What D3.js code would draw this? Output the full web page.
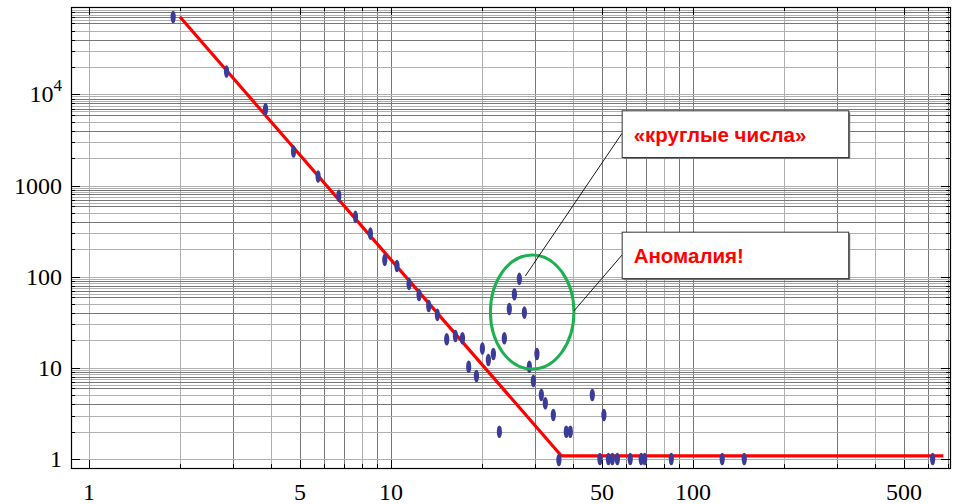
<!DOCTYPE html>
<html><head><meta charset="utf-8">
<script src="https://cdn.jsdelivr.net/npm/d3@7"></script>
<style>
html,body{margin:0;padding:0;background:#fff;}
svg{display:block;}
</style></head>
<body>
<svg id="chart" width="953" height="504"></svg>
<script>
// ---- data ----
const pointsX = [1.90,2.855,3.843,4.758,5.739,6.72,7.63,8.55,9.54,10.47,11.48,12.39,13.34,14.25,15.30,16.35,17.25,18.09,19.19,20.08,21.02,21.84,22.86,23.74,24.66,25.63,26.62,27.66,28.73,29.62,30.44,31.48,32.45,34.49,35.99,38.08,39.26,46.43,50.72,49.2,52.5,54.1,56.2,62.0,67.4,69.2,84.8,125,147.9,622];
const pointsY = [70600,17830,6900,2362,1256,771,453,297,153,131,83.4,63.1,47.8,38.1,20.6,22.4,21.1,10.3,8.15,16.3,12.2,14.2,1.99,21.1,44.3,64.3,94.6,40.4,10.3,7.18,14.2,5.04,4.09,3.04,0.975,1.99,1.99,5.04,3.04,1,1,1,1,1,1,1,1,1,1,1];
const fitX = [2.0, 36.7, 675];
const fitY = [71100, 1.08, 1.08];
const xTickLabels = [1,5,10,50,100,500];
const yTickValues = [1,10,100,1000,10000];
const yTickLabels = ["1","10","100","1000","10^4"];
const annotationTexts = ["«круглые числа»","Аномалия!"];
// ellipse bounds (data units)
const ringX = [21.35, 40.36];
const ringY = [9.72, 173.5];
// annotation boxes (data units): [x0,x1,yTop,yBottom]
const box1 = [58.3, 328, 6607, 2030];
const box2 = [58.3, 328, 308, 95.3];
const leader1 = [[27.87,102],[58.3,3760]];
const leader2 = [[40.36,42.1],[58.3,173.5]];

// ---- scales ----
const svg = d3.select("#chart");
const x = d3.scaleLog().domain([0.872, 710]).range([71, 950]);
const y = d3.scaleLog().domain([0.797, 91000]).range([468, 7]);
const [X0,X1] = x.range(); const [Y0,Y1] = y.range();
const px = v => Math.round(v)+0.5;

// ---- gridlines ----
const lightX = new Set([1,2,4,8,20,40,80,200,400]);
const vgrid = [];
for (let k=0;k<3;k++) for (let d=1; d<=9; d++){ const v=d*Math.pow(10,k); if (v<=x.domain()[1]) vgrid.push(v);}
svg.append("g").selectAll("line").data(vgrid).join("line")
  .attr("x1",d=>px(x(d))).attr("x2",d=>px(x(d))).attr("y1",Y1).attr("y2",Y0)
  .attr("stroke",d=>lightX.has(d)?"#b0b0b0":"#777777").attr("stroke-width",1);

const hMult = [1,2,3,4,5,6,6.5,7,7.5,8,8.5,9,9.5];
const lightMult = new Set([1,2,3,5,6.5,7.5,8.5,9.5]);
const hgrid = [];
for (let k=0;k<5;k++) for (const d of hMult){ const v=d*Math.pow(10,k); if (v<=y.domain()[1] && v>=y.domain()[0]) hgrid.push({v,d});}
svg.append("g").selectAll("line").data(hgrid).join("line")
  .attr("x1",X0).attr("x2",X1).attr("y1",d=>px(y(d.v))).attr("y2",d=>px(y(d.v)))
  .attr("stroke",d=>lightMult.has(d.d)?"#b0b0b0":"#777777").attr("stroke-width",1);

// ---- ticks (inward) ----
const tickG = svg.append("g").attr("stroke","#000").attr("stroke-width",1);
const xMinor = vgrid.filter(v=>!xTickLabels.includes(v));
tickG.selectAll(".xb").data(xTickLabels).join("line").attr("x1",d=>px(x(d))).attr("x2",d=>px(x(d))).attr("y1",Y0).attr("y2",Y0-8);
tickG.selectAll(".xt").data(xTickLabels).join("line").attr("x1",d=>px(x(d))).attr("x2",d=>px(x(d))).attr("y1",Y1).attr("y2",Y1+8);
tickG.selectAll(".xbm").data(xMinor).join("line").attr("x1",d=>px(x(d))).attr("x2",d=>px(x(d))).attr("y1",Y0).attr("y2",Y0-4);
tickG.selectAll(".xtm").data(xMinor).join("line").attr("x1",d=>px(x(d))).attr("x2",d=>px(x(d))).attr("y1",Y1).attr("y2",Y1+4);
const yMinor = hgrid.filter(d=>Number.isInteger(d.d) && d.d>1).map(d=>d.v);
tickG.selectAll(".yl").data(yTickValues).join("line").attr("x1",X0).attr("x2",X0+9).attr("y1",d=>px(y(d))).attr("y2",d=>px(y(d)));
tickG.selectAll(".yr").data(yTickValues).join("line").attr("x1",X1).attr("x2",X1-9).attr("y1",d=>px(y(d))).attr("y2",d=>px(y(d)));
tickG.selectAll(".ylm").data(yMinor).join("line").attr("x1",X0).attr("x2",X0+4).attr("y1",d=>px(y(d))).attr("y2",d=>px(y(d)));
tickG.selectAll(".yrm").data(yMinor).join("line").attr("x1",X1).attr("x2",X1-4).attr("y1",d=>px(y(d))).attr("y2",d=>px(y(d)));

// frame
svg.append("rect").attr("x",X0+0.5).attr("y",Y1+0.5).attr("width",X1-X0).attr("height",Y0-Y1)
  .attr("fill","none").attr("stroke","#000").attr("stroke-width",1.2);

// ---- tick labels ----
const font = "'Liberation Serif','Times New Roman',serif";
svg.append("g").selectAll("text").data(xTickLabels).join("text")
  .attr("x",d=>x(d)).attr("y",500).attr("text-anchor","middle")
  .attr("font-family",font).attr("font-size",24).attr("fill","#000").text(d=>d);
const yl = svg.append("g").selectAll("text").data(yTickValues).join("text")
  .attr("x",62).attr("y",d=>y(d)+8).attr("text-anchor","end")
  .attr("font-family",font).attr("font-size",24).attr("fill","#000");
yl.each(function(d,i){
  const t = d3.select(this); const lab = yTickLabels[i];
  if (lab.includes("^")){
    const [b,e] = lab.split("^");
    t.append("tspan").text(b);
    t.append("tspan").attr("dy",-11).attr("font-size",17).text(e);
  } else t.text(lab);
});

// ---- fit line ----
const line = d3.line().x(d=>x(d[0])).y(d=>y(d[1]));
svg.append("path").datum(fitX.map((v,i)=>[v,fitY[i]])).attr("d",line)
  .attr("fill","none").attr("stroke","#ff0000").attr("stroke-width",3.2);

// ---- points ----
svg.append("g").selectAll("ellipse").data(pointsX.map((v,i)=>[v,pointsY[i]])).join("ellipse")
  .attr("cx",d=>x(d[0])).attr("cy",d=>y(d[1])).attr("rx",2.6).attr("ry",6.3)
  .attr("fill","#3b3b98");

// ---- ring ----
svg.append("ellipse")
  .attr("cx",(x(ringX[0])+x(ringX[1]))/2).attr("cy",(y(ringY[0])+y(ringY[1]))/2)
  .attr("rx",(x(ringX[1])-x(ringX[0]))/2).attr("ry",(y(ringY[0])-y(ringY[1]))/2)
  .attr("fill","none").attr("stroke","#1db04e").attr("stroke-width",3);

// ---- leaders ----
[leader1,leader2].forEach(l=>{
  svg.append("line").attr("x1",x(l[0][0])).attr("y1",y(l[0][1])).attr("x2",x(l[1][0])).attr("y2",y(l[1][1]))
    .attr("stroke","#000").attr("stroke-width",0.9);
});

// ---- boxes ----
[box1,box2].forEach((b,i)=>{
  const bx=x(b[0]), by=y(b[2]), bw=x(b[1])-x(b[0]), bh=y(b[3])-y(b[2]);
  svg.append("rect").attr("x",bx+1.5).attr("y",by+1.5).attr("width",bw).attr("height",bh).attr("fill","#777");
  svg.append("rect").attr("x",bx).attr("y",by).attr("width",bw).attr("height",bh)
    .attr("fill","#fff").attr("stroke","#333").attr("stroke-width",1);
  svg.append("text").attr("x",bx+11.5).attr("y",by+bh/2+7.5)
    .attr("font-family","'Liberation Sans',Arial,sans-serif").attr("font-weight","bold")
    .attr("font-size",20.5).attr("fill","#ff0000").text(annotationTexts[i]);
});
</script>
</body></html>
